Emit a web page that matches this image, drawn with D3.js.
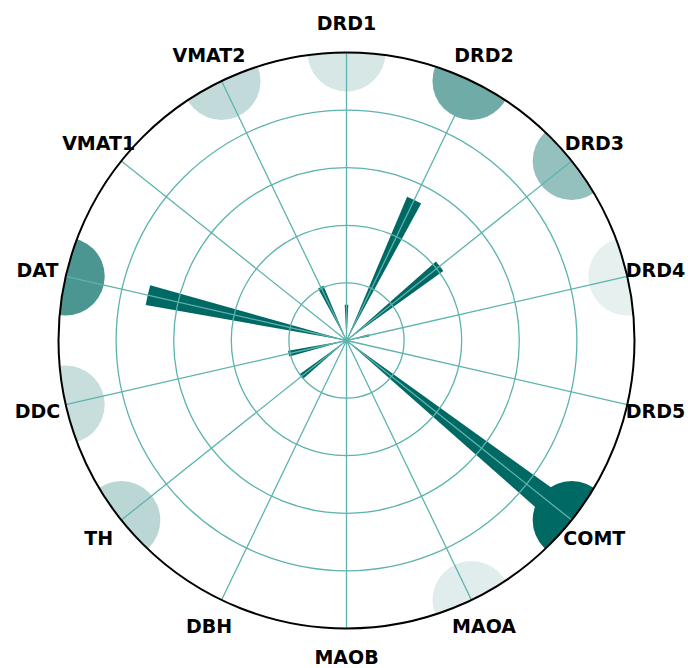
<!DOCTYPE html>
<html>
<head>
<meta charset="utf-8">
<script src="https://cdn.jsdelivr.net/npm/d3@7/dist/d3.min.js"></script>
<style>
  html, body { margin: 0; padding: 0; background: #ffffff; }
  svg { display: block; }
</style>
</head>
<body>
<svg id="chart" width="688" height="668"></svg>
<script>
// Dopamine pathway genes, clockwise from the top
const genes = ["DRD1", "DRD2", "DRD3", "DRD4", "DRD5", "COMT", "MAOA",
               "MAOB", "DBH", "TH", "DDC", "DAT", "VMAT1", "VMAT2"];
// Bar length per gene (radial units, axis 0–5)
const scores = [0.62, 2.71, 2.07, 0.40, 0.12, 5.0, 0.10,
                0.05, 0.05, 1.01, 1.03, 3.54, 0.08, 1.03];
// Strength of the rim marker per gene (0–1)
const rimStrength = [0.16, 0.56, 0.42, 0.10, 0.0, 1.0, 0.12,
                     0.0, 0.0, 0.27, 0.22, 0.70, 0.0, 0.24];
// Radial grid rings
const ringTicks = [1, 2, 3, 4];

const cx = 346.5, cy = 340.5, R = 288;
const teal = "#006963";
const gridColor = "#5db3ae";

const svg = d3.select("#chart");
const g = svg.append("g").attr("transform", `translate(${cx},${cy})`);

const step = 2 * Math.PI / genes.length;
const a = d => genes.indexOf(d) * step;
const r = d3.scaleLinear().domain([0, 5]).range([0, R]);
const barWidth = 0.1; // radians

// clip to plot disc
svg.append("defs").append("clipPath").attr("id", "disc")
  .append("circle").attr("cx", 0).attr("cy", 0).attr("r", R);

g.append("circle").attr("r", R).attr("fill", "#ffffff");

const plot = g.append("g").attr("clip-path", "url(#disc)");

// rim markers
const rimOpacity = d3.scaleLinear().domain([0, 1]).range([0, 1]);
plot.selectAll("circle.rim")
  .data(genes)
  .join("circle")
  .attr("class", "rim")
  .attr("cx", d => r(5) * Math.sin(a(d)))
  .attr("cy", d => -r(5) * Math.cos(a(d)))
  .attr("r", 39)
  .attr("fill", teal)
  .attr("fill-opacity", (d, i) => rimOpacity(rimStrength[i]))
  .attr("stroke", "none");

// wedge bars
const arc = d3.arc()
  .innerRadius(0)
  .outerRadius(d => r(d.v))
  .startAngle(d => a(d.g) - barWidth / 2)
  .endAngle(d => a(d.g) + barWidth / 2);

plot.selectAll("path.bar")
  .data(genes.map((gname, i) => ({ g: gname, v: scores[i] })))
  .join("path")
  .attr("class", "bar")
  .attr("d", arc)
  .attr("fill", teal);

// grid rings
g.selectAll("circle.ring")
  .data(ringTicks)
  .join("circle")
  .attr("class", "ring")
  .attr("r", d => r(d))
  .attr("fill", "none")
  .attr("stroke", gridColor)
  .attr("stroke-width", 1.3);

// spokes
g.selectAll("line.spoke")
  .data(genes)
  .join("line")
  .attr("class", "spoke")
  .attr("x1", 0).attr("y1", 0)
  .attr("x2", d => r(5) * Math.sin(a(d)))
  .attr("y2", d => -r(5) * Math.cos(a(d)))
  .attr("stroke", gridColor)
  .attr("stroke-width", 1.3);

// outer frame
g.append("circle").attr("r", R)
  .attr("fill", "none")
  .attr("stroke", "#000000")
  .attr("stroke-width", 2);

// gene labels
const labelR = 317;
g.selectAll("text.lab")
  .data(genes)
  .join("text")
  .attr("class", "lab")
  .attr("x", d => labelR * Math.sin(a(d)))
  .attr("y", d => -labelR * Math.cos(a(d)))
  .attr("dy", "0.36em")
  .attr("text-anchor", "middle")
  .attr("font-family", "DejaVu Sans")
  .attr("font-weight", "bold")
  .attr("font-size", 19)
  .attr("fill", "#000000")
  .text(d => d);
</script>
</body>
</html>
